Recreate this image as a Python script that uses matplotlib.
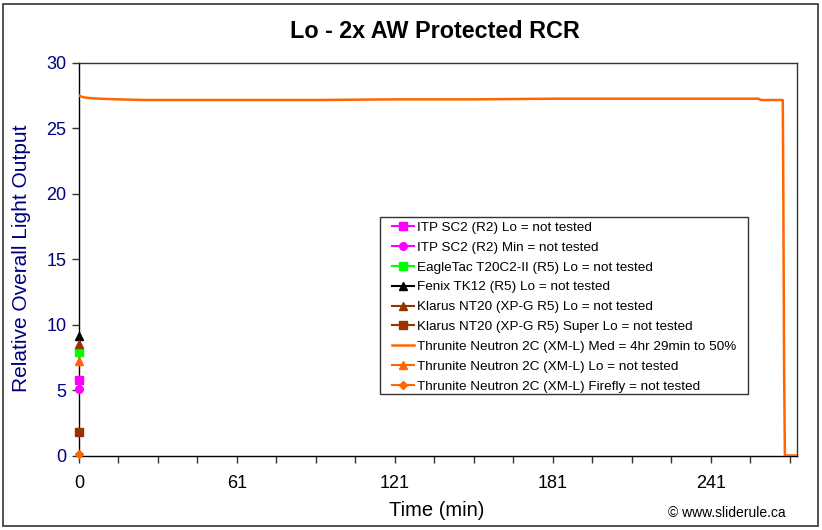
import matplotlib
matplotlib.use("Agg")
import matplotlib.pyplot as plt
from matplotlib.patches import Rectangle
from matplotlib.ticker import MultipleLocator

plt.rcParams['font.family'] = ['Liberation Sans', 'DejaVu Sans']

# Main runtime curve: Thrunite Neutron 2C (XM-L) Med
med_time = [0, 1, 2, 4, 8, 15, 25, 40, 60, 90, 120, 150, 180, 210, 240, 258, 259, 267.3, 267.5, 267.8, 268.1, 272.7]
med_value = [27.5, 27.4, 27.35, 27.3, 27.25, 27.2, 27.15, 27.15, 27.15, 27.15, 27.2, 27.2,
             27.25, 27.25, 27.25, 27.25, 27.15, 27.15, 20.4, 6.7, 0.0, 0.0]

# Single-point "not tested" series at t=0
point_labels = [
    "ITP SC2 (R2) Lo = not tested",
    "ITP SC2 (R2) Min = not tested",
    "EagleTac T20C2-II (R5) Lo = not tested",
    "Fenix TK12 (R5) Lo = not tested",
    "Klarus NT20 (XP-G R5) Lo = not tested",
    "Klarus NT20 (XP-G R5) Super Lo = not tested",
]
point_values = [5.8, 5.1, 7.9, 9.15, 8.5, 1.8]
point_colors = ["#FF00FF", "#FF00FF", "#00FF00", "#000000", "#993300", "#993300"]
point_markers = ["s", "o", "s", "^", "^", "s"]

med_label = "Thrunite Neutron 2C (XM-L) Med = 4hr 29min to 50%"
after_labels = [
    "Thrunite Neutron 2C (XM-L) Lo = not tested",
    "Thrunite Neutron 2C (XM-L) Firefly = not tested",
]
after_values = [7.2, 0.15]
after_markers = ["^", "D"]
orange = "#FF6600"

x_tick_pos = [0, 60, 120, 180, 240]
x_tick_labels = ["0", "61", "121", "181", "241"]

W, H = 822, 530
fig = plt.figure(figsize=(W / 100, H / 100), dpi=100)
fig.patch.set_facecolor("white")
fig.patches.append(Rectangle((3 / W, 4 / H), 815 / W, 522 / H, transform=fig.transFigure,
                             fill=False, edgecolor="#333333", linewidth=1.2))

L, R, T, B = 79, 797, 62.7, 455.5
ax = fig.add_axes([L / W, (H - B) / H, (R - L) / W, (B - T) / H])

handles = []
for lab, val, col, mk in zip(point_labels, point_values, point_colors, point_markers):
    ms = 6 if mk != "o" else 5.5
    h, = ax.plot([0], [val], marker=mk, color=col, markersize=ms, linestyle="-",
                 linewidth=1.5, label=lab, clip_on=False, zorder=5)
    handles.append(h)
h, = ax.plot(med_time, med_value, color=orange, linewidth=1.8, label=med_label, zorder=4)
handles.append(h)
for lab, val, mk in zip(after_labels, after_values, after_markers):
    ms = 6 if mk != "D" else 4.5
    h, = ax.plot([0], [val], marker=mk, color=orange, markersize=ms, linestyle="-",
                 linewidth=1.5, label=lab, clip_on=False, zorder=5)
    handles.append(h)

ax.set_xlim(0, 272.7)
ax.set_ylim(0, 30)
ax.yaxis.set_major_locator(MultipleLocator(5))
ax.set_xticks(x_tick_pos)
ax.set_xticklabels(x_tick_labels)
ax.xaxis.set_minor_locator(MultipleLocator(15))
ax.tick_params(axis="x", which="both", length=5, width=1, color="#333333", direction="out")
ax.tick_params(axis="x", which="major", pad=9, labelsize=13, labelcolor="black")
ax.tick_params(axis="y", which="major", length=5, width=1, color="#333333", direction="out",
               labelsize=13, labelcolor="#000080", pad=4)
for s in ax.spines.values():
    s.set_color("#333333")
    s.set_linewidth(1.0)
ax.spines["left"].set_color("black")
ax.spines["bottom"].set_color("black")

fig.text(435 / W, 1 - 31 / H, "Lo - 2x AW Protected RCR", ha="center", va="center",
         fontsize=16.8, fontweight="bold")
fig.text(22 / W, 1 - 258 / H, "Relative Overall Light Output", ha="center", va="center",
         rotation=90, fontsize=15, color="#000080")
fig.text(437 / W, 1 - 511 / H, "Time (min)", ha="center", va="center", fontsize=14.5)
fig.text(727 / W, 1 - 513 / H, "\u00a9 www.sliderule.ca", ha="center", va="center", fontsize=10)

# legend box drawn separately to match Excel's padding
box = Rectangle((380 / W, 1 - 394 / H), 368 / W, 177 / H, transform=fig.transFigure,
                fill=True, facecolor="white", edgecolor="#333333", linewidth=1.0,
                zorder=6, clip_on=False)
ax.add_artist(box)
leg = ax.legend(handles=handles, loc="upper left",
                bbox_to_anchor=((392 - L) / (R - L), (B - 221.5) / (B - T)),
                fontsize=9.7, frameon=False,
                handlelength=1.6, handletextpad=0.25, labelspacing=0.55, borderpad=0,
                borderaxespad=0, markerscale=1.0)
leg.set_zorder(7)

fig.savefig("out.png", dpi=100)
